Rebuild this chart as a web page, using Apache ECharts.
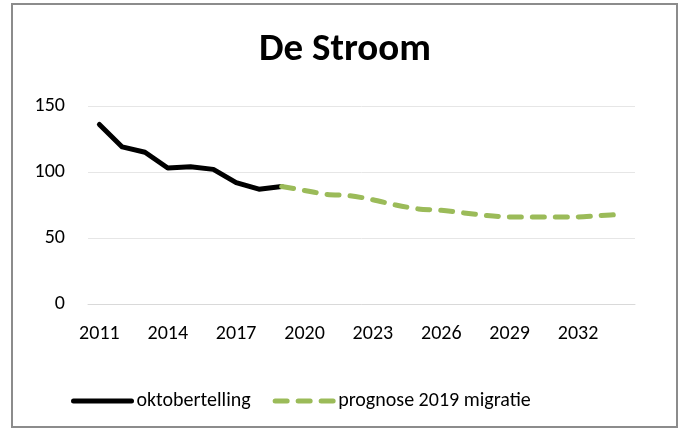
<!DOCTYPE html>
<html style="height: 100%">
   <head>
       <meta charset="utf-8">
   </head>
   <body style="height: 100%; margin: 0; background: #fff">
       <div id="container" style="width: 690px; height: 430px"></div>
       <script type="text/javascript" src="https://cdn.jsdelivr.net/npm/echarts@6/dist/echarts.min.js"></script>
       <script type="text/javascript">
var years = ['2011','2012','2013','2014','2015','2016','2017','2018','2019','2020','2021','2022',
             '2023','2024','2025','2026','2027','2028','2029','2030','2031','2032','2033','2034'];
// telling 2011-2019
var oktobertelling = [136, 119, 115, 103, 104, 102, 92, 87, 89];
// prognose 2019-2034
var prognose = [89, 86, 83, 82, 79, 75, 72, 71, 69, 67, 66, 66, 66, 66, 67, 68];
var yTicks = [0, 50, 100, 150];

var padTo = function (vals, start) {
    var res = [];
    for (var i = 0; i < years.length; i++) {
        var j = i - start;
        res.push(j >= 0 && j < vals.length ? vals[j] : '-');
    }
    return res;
};

var font = 'Carlito, "Open Sans", "Noto Sans", sans-serif';
var dom = document.getElementById("container");
var myChart = echarts.init(dom);
var option = {
    backgroundColor: '#fff',
    animation: false,
    title: {
        text: 'De Stroom',
        left: 'center',
        top: 26,
        textStyle: { fontFamily: font, fontSize: 39, fontWeight: 'bold', color: '#000' }
    },
    graphic: [{
        type: 'rect',
        shape: { x: 12, y: 4, width: 665, height: 423 },
        style: { fill: 'none', stroke: '#8c8c8c', lineWidth: 2 },
        silent: true
    }],
    legend: {
        left: 66,
        top: 386,
        itemWidth: 58,
        itemHeight: 14,
        itemGap: 22,
        itemStyle: { opacity: 0 },
        lineStyle: { width: 5, cap: 'round' },
        textStyle: { fontFamily: font, fontSize: 20, color: '#000' },
        data: ['oktobertelling', 'prognose 2019 migratie']
    },
    grid: { left: 88, right: 55, top: 106, bottom: 126 },
    xAxis: {
        type: 'category',
        data: years,
        boundaryGap: true,
        axisLine: { show: true, lineStyle: { color: '#d9d9d9' } },
        axisTick: { show: false },
        axisLabel: { interval: 2, color: '#000', fontFamily: font, fontSize: 20, margin: 20 }
    },
    yAxis: {
        type: 'value',
        min: yTicks[0],
        max: yTicks[yTicks.length - 1],
        interval: 50,
        axisLine: { show: false },
        axisTick: { show: false },
        splitLine: { lineStyle: { color: '#e6e6e6', width: 1 } },
        axisLabel: { color: '#000', fontFamily: font, fontSize: 20, margin: 23 }
    },
    series: [
        {
            name: 'oktobertelling',
            type: 'line',
            data: padTo(oktobertelling, 0),
            symbol: 'none',
            lineStyle: { color: '#000', width: 5, cap: 'round', join: 'round' },
            itemStyle: { color: '#000' },
            z: 3
        },
        {
            name: 'prognose 2019 migratie',
            type: 'line',
            data: padTo(prognose, 8),
            symbol: 'none',
            smooth: 0.3,
            lineStyle: { color: '#9bbb59', width: 5, type: [12, 11], cap: 'round', join: 'round' },
            itemStyle: { color: '#9bbb59' },
            z: 4
        }
    ]
};
myChart.setOption(option, true);
       </script>
   </body>
</html>
